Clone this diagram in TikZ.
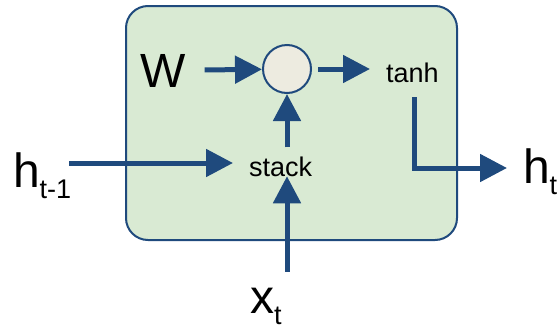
\documentclass[tikz,border=0pt]{standalone}
\usepackage{fontspec}
\setmainfont{Liberation Sans}
\usetikzlibrary{arrows.meta}
\definecolor{dblue}{HTML}{1F4A7D}
\definecolor{boxgreen}{HTML}{D9EAD3}
\definecolor{circfill}{HTML}{EDEBE0}
\newcommand{\bigtxt}{\fontsize{48}{48}\selectfont}
\newcommand{\smalltxt}{\fontsize{27}{27}\selectfont}
\tikzset{
  arr/.style={draw=dblue, line width=5pt, -{Triangle[length=27pt,width=27pt]}},
  lbl/.style={inner sep=0pt, outer sep=0pt, text=black},
}
\begin{document}
\begin{tikzpicture}[x=1pt,y=-1pt]
\useasboundingbox (0,0) rectangle (559,327);
% cell box
\draw[dblue, fill=boxgreen, line width=2pt, rounded corners=22pt] (126,6) rectangle (457,240);
% nodes
\node[lbl, anchor=base] (W) at (163,87) {\bigtxt W};
\node[draw=dblue, fill=circfill, line width=2pt, circle, minimum size=48pt, inner sep=0pt] (c) at (287,69) {};
\node[lbl, anchor=base west] (tanh) at (386,82) {\smalltxt tanh};
\node[lbl, anchor=base west] (stack) at (249,176) {\smalltxt stack};
\node[lbl, anchor=base west] (hprev) at (13,187) {\bigtxt h\raisebox{-11pt}{\smalltxt t-1}};
\node[lbl, anchor=base west] (hnext) at (523,183) {\bigtxt h\raisebox{-11pt}{\smalltxt t}};
\node[lbl, anchor=base west] (xt) at (250,313) {\bigtxt x\raisebox{-11pt}{\smalltxt t}};
\coordinate (hin) at (69,163);
\coordinate (bend) at (414,168);
% connectors
\draw[arr, shorten <=19pt] (W) -- (c);
\draw[arr, shorten <=6pt, shorten >=16pt] (c.east) -- (c.east -| tanh.west);
\draw[arr, shorten <=9pt] (c.south |- stack.north) -- (c.south);
\draw[arr, shorten <=16pt] (c.south |- xt.north) -- (c.south |- stack.south);
\draw[arr, shorten >=16pt] (hin) -- (hin -| stack.west);
\draw[arr, shorten >=16pt] (bend |- tanh.south) ++(0,15) -- (bend) -- (bend -| hnext.west);
\end{tikzpicture}
\end{document}
